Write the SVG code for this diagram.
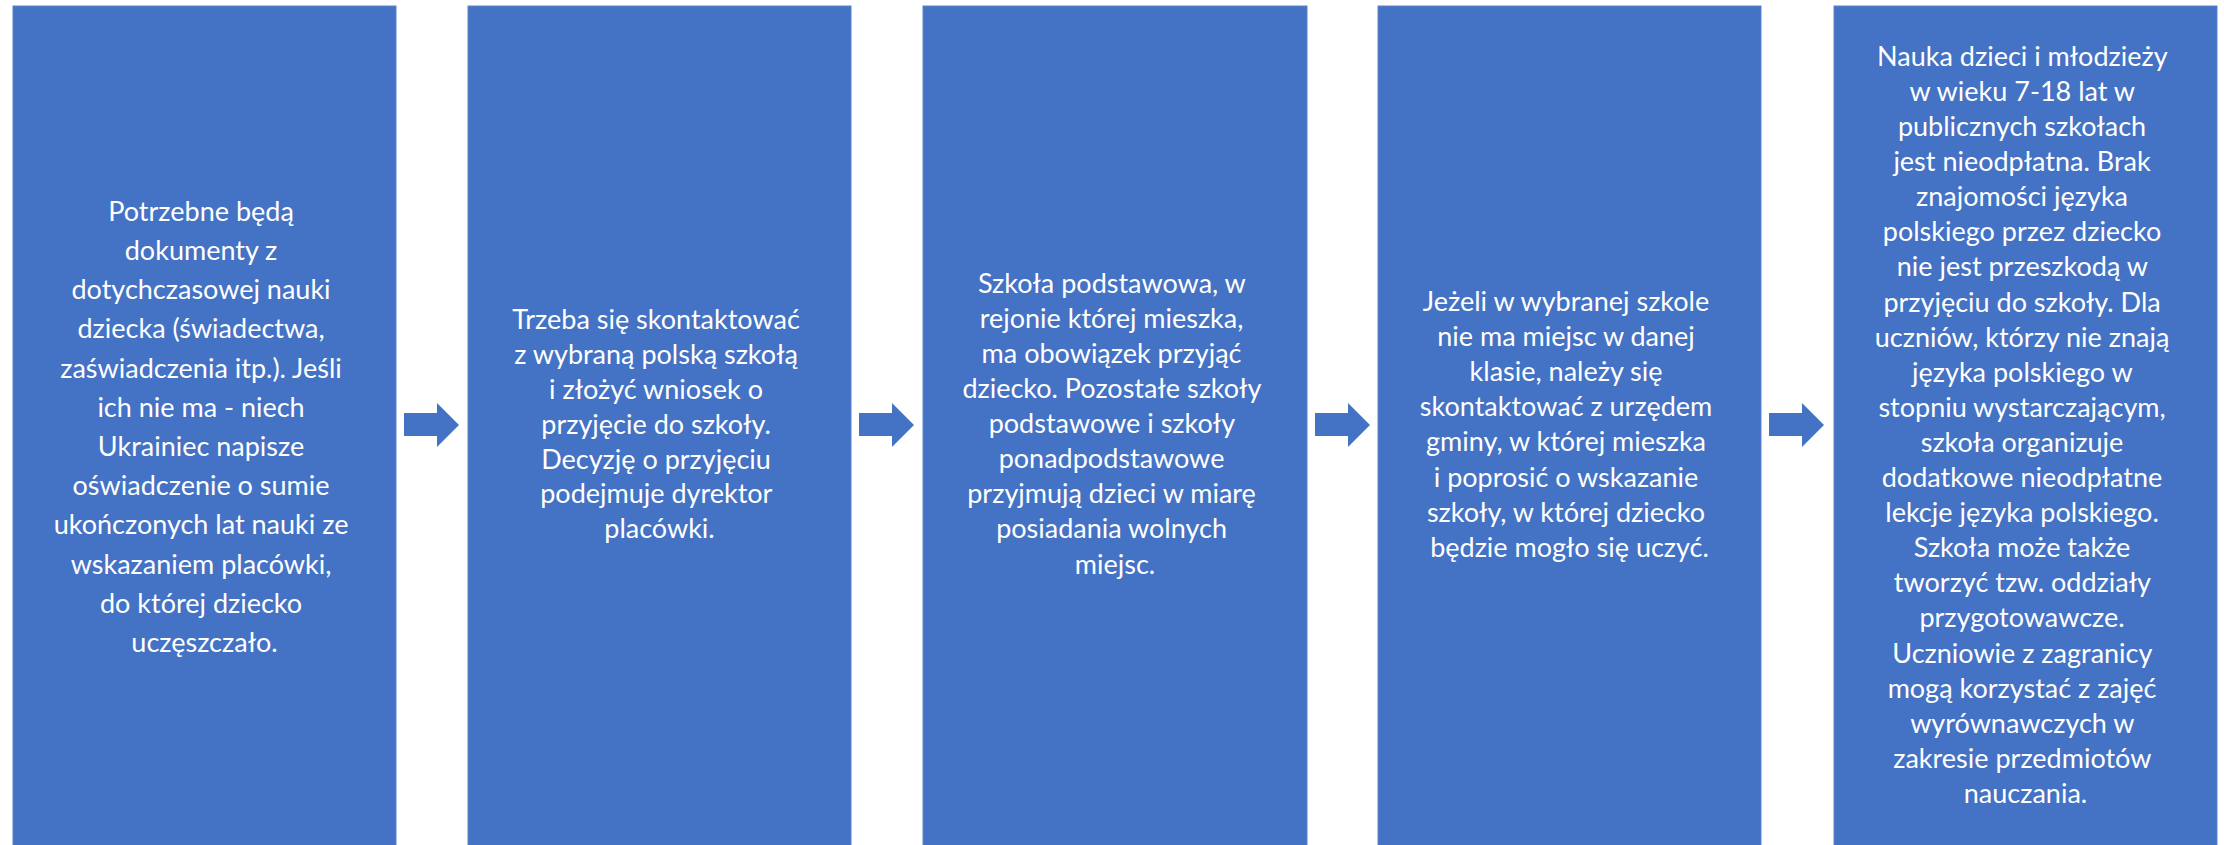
<svg xmlns="http://www.w3.org/2000/svg" width="2224" height="845" viewBox="0 0 2224 845">
<style>
.box{fill:#4472C4;stroke:#5B83CB;stroke-width:1}
.arr{fill:#4472C4}
.t{font-family:Lato,"Open Sans","Liberation Sans",sans-serif;font-size:27px;fill:#FFFFFF;text-anchor:middle}
.t5{font-size:27px}
</style>
<rect width="2224" height="845" fill="#FFFFFF"/>
<g id="connectors">
<path class="arr" d="M404,413 H437 V403 L459,425 L437,447 V436 H404 Z"/>
<path class="arr" d="M859,413 H892 V403 L914,425 L892,447 V436 H859 Z"/>
<path class="arr" d="M1315,413 H1348 V403 L1370,425 L1348,447 V436 H1315 Z"/>
<path class="arr" d="M1769,413 H1802 V403 L1824,425 L1802,447 V436 H1769 Z"/>
</g>
<g id="node1">
<rect class="box" x="13" y="6" width="383" height="845"/>
<text class="t">
<tspan x="204.5" y="220.7">Potrzebne będą</tspan>
<tspan x="204.5" y="259.9">dokumenty z</tspan>
<tspan x="204.5" y="299.1">dotychczasowej nauki</tspan>
<tspan x="204.5" y="338.3">dziecka (świadectwa,</tspan>
<tspan x="204.5" y="377.5">zaświadczenia itp.). Jeśli</tspan>
<tspan x="204.5" y="416.7">ich nie ma - niech</tspan>
<tspan x="204.5" y="455.9">Ukrainiec napisze</tspan>
<tspan x="204.5" y="495.1">oświadczenie o sumie</tspan>
<tspan x="204.5" y="534.3">ukończonych lat nauki ze</tspan>
<tspan x="204.5" y="573.5">wskazaniem placówki,</tspan>
<tspan x="204.5" y="612.7">do której dziecko</tspan>
<tspan x="204.5" y="651.9">uczęszczało.</tspan>
</text>
</g>
<g id="node2">
<rect class="box" x="468" y="6" width="383" height="845"/>
<text class="t">
<tspan x="659.5" y="329.3">Trzeba się skontaktować</tspan>
<tspan x="659.5" y="364.1">z wybraną polską szkołą</tspan>
<tspan x="659.5" y="398.9">i złożyć wniosek o</tspan>
<tspan x="659.5" y="433.7">przyjęcie do szkoły.</tspan>
<tspan x="659.5" y="468.5">Decyzję o przyjęciu</tspan>
<tspan x="659.5" y="503.3">podejmuje dyrektor</tspan>
<tspan x="659.5" y="538.1">placówki.</tspan>
</text>
</g>
<g id="node3">
<rect class="box" x="923" y="6" width="384" height="845"/>
<text class="t">
<tspan x="1115" y="292.7">Szkoła podstawowa, w</tspan>
<tspan x="1115" y="327.8">rejonie której mieszka,</tspan>
<tspan x="1115" y="362.9">ma obowiązek przyjąć</tspan>
<tspan x="1115" y="398">dziecko. Pozostałe szkoły</tspan>
<tspan x="1115" y="433.1">podstawowe i szkoły</tspan>
<tspan x="1115" y="468.2">ponadpodstawowe</tspan>
<tspan x="1115" y="503.3">przyjmują dzieci w miarę</tspan>
<tspan x="1115" y="538.4">posiadania wolnych</tspan>
<tspan x="1115" y="573.5">miejsc.</tspan>
</text>
</g>
<g id="node4">
<rect class="box" x="1378" y="6" width="383" height="845"/>
<text class="t">
<tspan x="1569.5" y="311">Jeżeli w wybranej szkole</tspan>
<tspan x="1569.5" y="346.1">nie ma miejsc w danej</tspan>
<tspan x="1569.5" y="381.2">klasie, należy się</tspan>
<tspan x="1569.5" y="416.3">skontaktować z urzędem</tspan>
<tspan x="1569.5" y="451.4">gminy, w której mieszka</tspan>
<tspan x="1569.5" y="486.5">i poprosić o wskazanie</tspan>
<tspan x="1569.5" y="521.6">szkoły, w której dziecko</tspan>
<tspan x="1569.5" y="556.7">będzie mogło się uczyć.</tspan>
</text>
</g>
<g id="node5">
<rect class="box" x="1834" y="6" width="383" height="845"/>
<text class="t t5">
<tspan x="2025.5" y="65.8">Nauka dzieci i młodzieży</tspan>
<tspan x="2025.5" y="100.9">w wieku 7-18 lat w</tspan>
<tspan x="2025.5" y="136">publicznych szkołach</tspan>
<tspan x="2025.5" y="171.1">jest nieodpłatna. Brak</tspan>
<tspan x="2025.5" y="206.2">znajomości języka</tspan>
<tspan x="2025.5" y="241.3">polskiego przez dziecko</tspan>
<tspan x="2025.5" y="276.4">nie jest przeszkodą w</tspan>
<tspan x="2025.5" y="311.5">przyjęciu do szkoły. Dla</tspan>
<tspan x="2025.5" y="346.6">uczniów, którzy nie znają</tspan>
<tspan x="2025.5" y="381.7">języka polskiego w</tspan>
<tspan x="2025.5" y="416.8">stopniu wystarczającym,</tspan>
<tspan x="2025.5" y="451.9">szkoła organizuje</tspan>
<tspan x="2025.5" y="487">dodatkowe nieodpłatne</tspan>
<tspan x="2025.5" y="522.1">lekcje języka polskiego.</tspan>
<tspan x="2025.5" y="557.2">Szkoła może także</tspan>
<tspan x="2025.5" y="592.3">tworzyć tzw. oddziały</tspan>
<tspan x="2025.5" y="627.4">przygotowawcze.</tspan>
<tspan x="2025.5" y="662.5">Uczniowie z zagranicy</tspan>
<tspan x="2025.5" y="697.6">mogą korzystać z zajęć</tspan>
<tspan x="2025.5" y="732.7">wyrównawczych w</tspan>
<tspan x="2025.5" y="767.8">zakresie przedmiotów</tspan>
<tspan x="2025.5" y="802.9">nauczania.</tspan>
</text>
</g>
</svg>
